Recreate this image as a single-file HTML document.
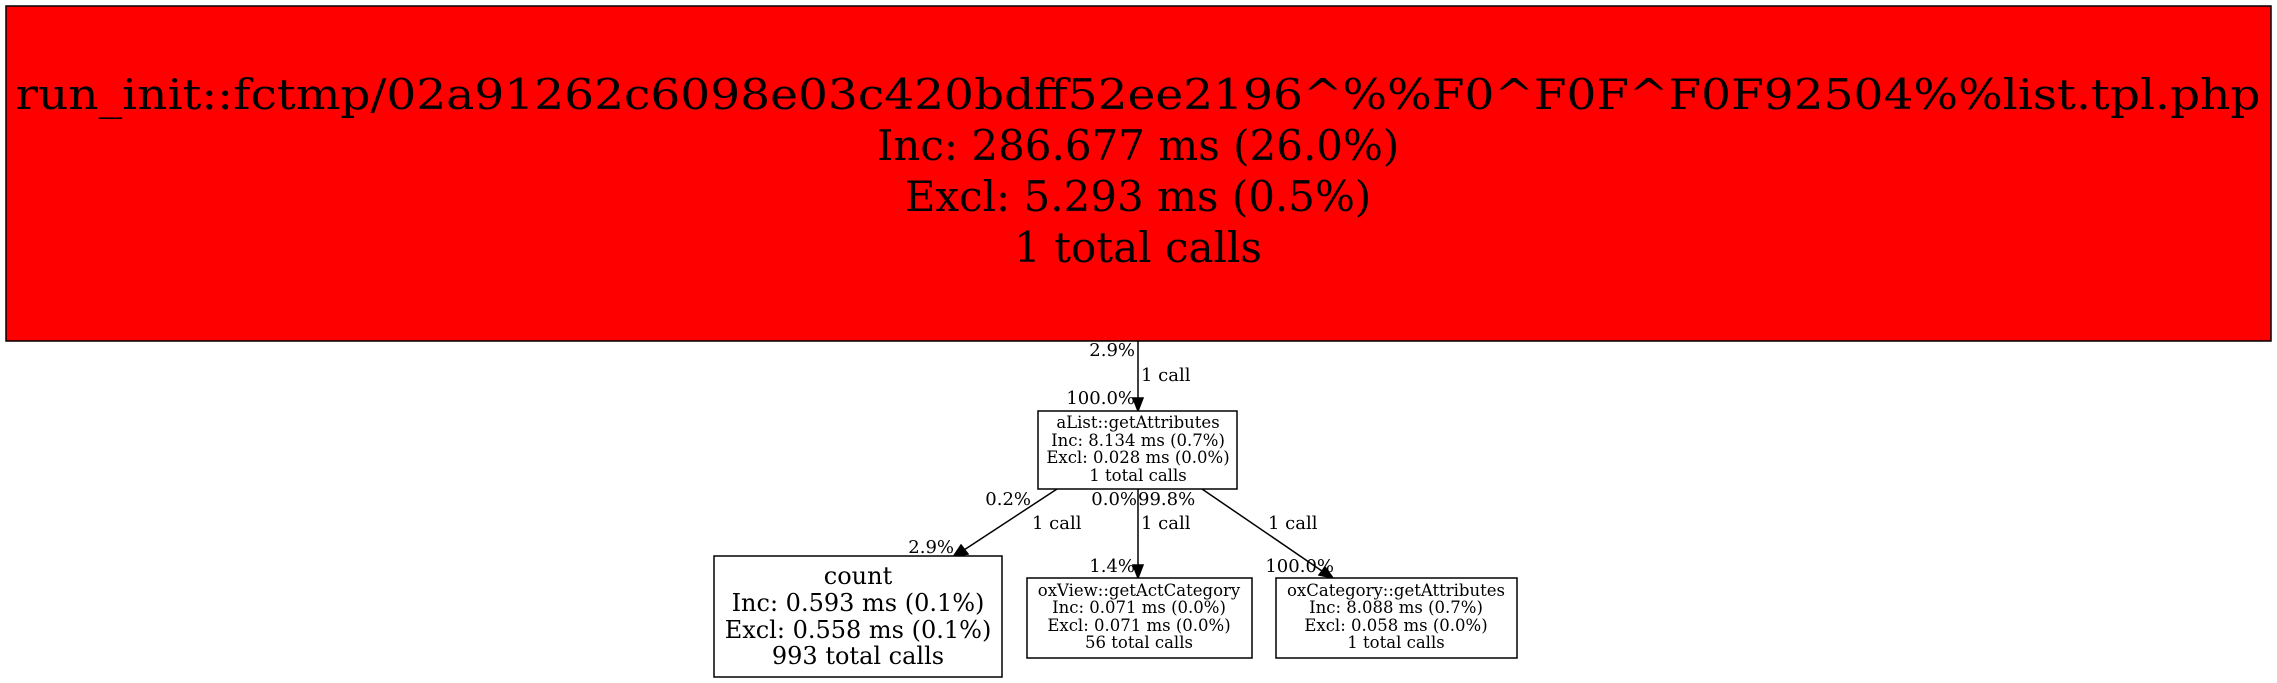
<!DOCTYPE html>
<html><head><meta charset="utf-8"><style>
html,body{margin:0;padding:0;background:#fff;}
svg{display:block;}
text{font-family:"DejaVu Serif","Liberation Serif",serif;fill:#000;}
</style></head><body>
<svg width="2277" height="683" viewBox="0 0 2277 683" xmlns="http://www.w3.org/2000/svg">
<rect x="0" y="0" width="2277" height="683" fill="#fff"/>
<rect x="6" y="6" width="2265" height="335" fill="#ff0000" stroke="#000" stroke-width="1.5"/>
<g font-size="42" text-anchor="middle">
<text x="1138" y="109" textLength="2245" lengthAdjust="spacingAndGlyphs">run_init::fctmp/02a91262c6098e03c420bdff52ee2196^%%F0^F0F^F0F92504%%list.tpl.php</text>
<text x="1138" y="160">Inc: 286.677 ms (26.0%)</text>
<text x="1138" y="211">Excl: 5.293 ms (0.5%)</text>
<text x="1138" y="262">1 total calls</text>
</g>
<g stroke="#000" stroke-width="1.5" fill="none">
<line x1="1138" y1="341" x2="1138" y2="398"/>
<line x1="1057" y1="489" x2="964" y2="550"/>
<line x1="1138" y1="489" x2="1138" y2="565"/>
<line x1="1202" y1="489" x2="1322" y2="571"/>
</g>
<g fill="#000" stroke="#000" stroke-width="1.5">
<polygon points="1133,398 1143,398 1138,411"/>
<polygon points="961,545 968,554 953,557"/>
<polygon points="1133,565 1143,565 1138,578"/>
<polygon points="1319,575 1325,567 1333,578"/>
</g>
<rect x="1038" y="411" width="199" height="78" fill="#fff" stroke="#000" stroke-width="1.5"/>
<g font-size="16.5" text-anchor="middle">
<text x="1138" y="428">aList::getAttributes</text>
<text x="1138" y="446">Inc: 8.134 ms (0.7%)</text>
<text x="1138" y="463">Excl: 0.028 ms (0.0%)</text>
<text x="1138" y="481">1 total calls</text>
</g>
<rect x="714" y="556" width="288" height="121" fill="#fff" stroke="#000" stroke-width="1.5"/>
<g font-size="24" text-anchor="middle">
<text x="858" y="584">count</text>
<text x="858" y="611">Inc: 0.593 ms (0.1%)</text>
<text x="858" y="638">Excl: 0.558 ms (0.1%)</text>
<text x="858" y="664">993 total calls</text>
</g>
<rect x="1027" y="578" width="225" height="80" fill="#fff" stroke="#000" stroke-width="1.5"/>
<g font-size="16.5" text-anchor="middle">
<text x="1139" y="596">oxView::getActCategory</text>
<text x="1139" y="613">Inc: 0.071 ms (0.0%)</text>
<text x="1139" y="631">Excl: 0.071 ms (0.0%)</text>
<text x="1139" y="648">56 total calls</text>
</g>
<rect x="1276" y="578" width="241" height="80" fill="#fff" stroke="#000" stroke-width="1.5"/>
<g font-size="16.5" text-anchor="middle">
<text x="1396" y="596">oxCategory::getAttributes</text>
<text x="1396" y="613">Inc: 8.088 ms (0.7%)</text>
<text x="1396" y="631">Excl: 0.058 ms (0.0%)</text>
<text x="1396" y="648">1 total calls</text>
</g>
<g font-size="18">
<text x="1135" y="356" text-anchor="end">2.9%</text>
<text x="1141" y="381">1 call</text>
<text x="1135" y="404" text-anchor="end">100.0%</text>
<text x="1031" y="505" text-anchor="end">0.2%</text>
<text x="1137" y="505" text-anchor="end">0.0%</text>
<text x="1138" y="505">99.8%</text>
<text x="1032" y="529">1 call</text>
<text x="1141" y="529">1 call</text>
<text x="1268" y="529">1 call</text>
<text x="954" y="553" text-anchor="end">2.9%</text>
<text x="1135" y="572" text-anchor="end">1.4%</text>
<text x="1334" y="572" text-anchor="end">100.0%</text>
</g>
</svg>
</body></html>
